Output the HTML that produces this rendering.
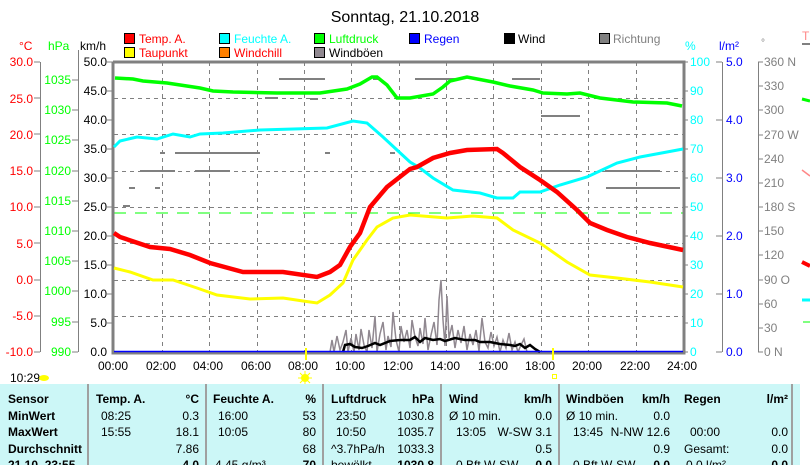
<!DOCTYPE html>
<html><head><meta charset="utf-8"><style>
body{margin:0;background:#fff;}
svg{display:block;font-family:"Liberation Sans",sans-serif;}
</style></head><body>
<svg width="810" height="465" viewBox="0 0 810 465" xmlns="http://www.w3.org/2000/svg">
<rect width="810" height="465" fill="#fff"/>
<text x="405" y="22" font-size="16" text-anchor="middle" fill="#000">Sonntag, 21.10.2018</text>
<g font-size="12">
<rect x="124.5" y="33.5" width="10" height="10" fill="#f00" stroke="#000"/><text x="139" y="43" fill="#f00">Temp. A.</text>
<rect x="124.5" y="47.5" width="10" height="10" fill="#ff0" stroke="#000"/><text x="139" y="57" fill="#f00">Taupunkt</text>
<rect x="219.5" y="33.5" width="10" height="10" fill="#0ff" stroke="#000"/><text x="234" y="43" fill="#0ff">Feuchte A.</text>
<rect x="219.5" y="47.5" width="10" height="10" fill="#ff8000" stroke="#000"/><text x="234" y="57" fill="#f00">Windchill</text>
<rect x="314.5" y="33.5" width="10" height="10" fill="#0f0" stroke="#000"/><text x="329" y="43" fill="#0f0">Luftdruck</text>
<rect x="314.5" y="47.5" width="10" height="10" fill="#908890" stroke="#000"/><text x="329" y="57" fill="#000">Windböen</text>
<rect x="409.5" y="33.5" width="10" height="10" fill="#00f" stroke="#000"/><text x="424" y="43" fill="#00f">Regen</text>
<rect x="504.5" y="33.5" width="10" height="10" fill="#000" stroke="#000"/><text x="518" y="43" fill="#000">Wind</text>
<rect x="599.5" y="33.5" width="10" height="10" fill="#808080" stroke="#000"/><text x="613" y="43" fill="#808080">Richtung</text>
</g>
<g font-size="12">
<text x="19" y="50" fill="#f00">°C</text>
<text x="48" y="50" fill="#0f0">hPa</text>
<text x="80" y="50" fill="#000">km/h</text>
<text x="685" y="50" fill="#0ff">%</text>
<text x="719" y="50" fill="#00f">l/m²</text>
<text x="761" y="46" fill="#808080" font-size="10">°</text>
</g>
<g stroke="#808080" stroke-dasharray="4,4" stroke-width="1">
<path d="M114 98.5H683M114 134.5H683M114 171.5H683M114 207.5H683M114 243.5H683M114 280.5H683M114 316.5H683"/>
<path d="M162.5 62V352M209.5 62V352M257.5 62V352M304.5 62V352M351.5 62V352M399.5 62V352M446.5 62V352M493.5 62V352M541.5 62V352M588.5 62V352M636.5 62V352"/>
</g>
<path d="M114 213H683" stroke="#0f0" stroke-dasharray="12,9" stroke-width="1"/>
<g stroke="#808080" stroke-width="2">
<path d="M279 79H325M373 79H378M415 79H455M512 79H540M541 116H580M540 171H580M605 171H660M606 188H680M175 153H260M140 171H175M195 171H230M129 188H135M155 188H160M123 206H130M160 153H165M325 153H330M390 153H395M265 98H278M310 99H318"/>
</g>
<g stroke="#808080" stroke-width="2" fill="none">
<path d="M113 62V353H684V62H113" stroke-width="3"/>
</g>
<g stroke="#808080" stroke-width="1">
<path d="M40.5 62V352M78.5 50V352M722.5 62V352M758.5 62V352"/>
</g>
<g font-size="12" fill="#f00" text-anchor="end">
<text x="33" y="66">30.0</text><text x="33" y="103">25.0</text><text x="33" y="139">20.0</text><text x="33" y="175">15.0</text><text x="33" y="211">10.0</text><text x="33" y="248">5.0</text><text x="33" y="284">0.0</text><text x="33" y="320">-5.0</text><text x="33" y="356">-10.0</text>
</g>
<g stroke="#808080"><path d="M34 62H40M34 98H40M34 134H40M34 171H40M34 207H40M34 243H40M34 280H40M34 316H40M34 352H40"/>
<path d="M72 80H78M72 110H78M72 140H78M72 171H78M72 201H78M72 231H78M72 261H78M72 291H78M72 322H78M72 352H78"/>
<path d="M107 62H113M107 91H113M107 120H113M107 149H113M107 178H113M107 207H113M107 236H113M107 265H113M107 294H113M107 323H113"/>
<path d="M683 62H688M683 91H688M683 120H688M683 149H688M683 178H688M683 207H688M683 236H688M683 265H688M683 294H688M683 323H688M683 352H688"/>
<path d="M716 62H722M716 120H722M716 178H722M716 236H722M716 294H722M716 352H722"/>
<path d="M758 62H763M758 86H763M758 110H763M758 135H763M758 159H763M758 183H763M758 207H763M758 231H763M758 255H763M758 280H763M758 304H763M758 328H763M758 352H763"/></g>
<g font-size="12" fill="#0f0" text-anchor="end">
<text x="71" y="84">1035</text><text x="71" y="114">1030</text><text x="71" y="144">1025</text><text x="71" y="175">1020</text><text x="71" y="205">1015</text><text x="71" y="235">1010</text><text x="71" y="265">1005</text><text x="71" y="295">1000</text><text x="71" y="326">995</text><text x="71" y="356">990</text>
</g>
<g font-size="12" fill="#000" text-anchor="end">
<text x="107" y="66">50.0</text><text x="107" y="95">45.0</text><text x="107" y="124">40.0</text><text x="107" y="153">35.0</text><text x="107" y="182">30.0</text><text x="107" y="211">25.0</text><text x="107" y="240">20.0</text><text x="107" y="269">15.0</text><text x="107" y="298">10.0</text><text x="107" y="327">5.0</text><text x="107" y="356">0.0</text>
</g>
<g font-size="12" fill="#0ff">
<text x="690" y="66">100</text><text x="690" y="95">90</text><text x="690" y="124">80</text><text x="690" y="153">70</text><text x="690" y="182">60</text><text x="690" y="211">50</text><text x="690" y="240">40</text><text x="690" y="269">30</text><text x="690" y="298">20</text><text x="690" y="327">10</text><text x="690" y="356">0</text>
</g>
<g font-size="12" fill="#00f">
<text x="726" y="66">5.0</text><text x="726" y="124">4.0</text><text x="726" y="182">3.0</text><text x="726" y="240">2.0</text><text x="726" y="298">1.0</text><text x="726" y="356">0.0</text>
</g>
<g font-size="12" fill="#808080">
<text x="764" y="66">360 N</text><text x="764" y="90">330</text><text x="764" y="114">300</text><text x="764" y="139">270 W</text><text x="764" y="163">240</text><text x="764" y="187">210</text><text x="764" y="211">180 S</text><text x="764" y="235">150</text><text x="764" y="259">120</text><text x="764" y="284">90  O</text><text x="764" y="308">60</text><text x="764" y="332">30</text><text x="764" y="356">0   N</text>
</g>
<g stroke-width="3" fill="none">
<path d="M802 44H810" stroke="#808080" stroke-width="2"/>
<path d="M802 99L810 101" stroke="#0f0"/>
<path d="M802 170L810 176" stroke="#f88" stroke-width="1.5"/>
<path d="M802 262L810 266" stroke="#f00" stroke-width="4"/>
<path d="M802 300H810" stroke="#0ff"/>
<path d="M803 322H810" stroke="#0f0" stroke-width="1"/>
<text x="802" y="40" font-size="12" fill="#f88" stroke="none">T</text>
</g>
<polyline fill="none" stroke="#908890" stroke-width="1.5" points="330,352 332,340 334,352 337,336 340,350 343,342 346,330 348,352 351,338 354,352 356,334 359,350 361,329 364,345 367,352 369,330 372,348 375,316 377,352 380,334 383,322 386,350 388,336 391,347 393,312 396,340 399,352 401,326 404,342 407,330 410,348 412,320 415,337 418,346 420,328 423,344 425,318 428,350 431,335 434,322 437,345 439,300 441,280 443,320 445,346 447,296 449,338 452,325 455,348 458,330 461,343 464,326 467,350 470,334 473,345 476,330 479,351 482,318 485,342 488,348 491,332 494,346 497,337 500,352 503,340 506,348 509,333 512,350 515,342 518,352 521,345 524,339 527,352"/>
<polyline fill="none" stroke="#000" stroke-width="2.5" points="343,352 345,345 350,344 355,347 362,348 368,346 375,343 380,345 390,341 400,340 410,340 415,337 420,342 425,338 433,340 440,339 445,341 455,338 465,340 475,340 480,342 490,342 500,344 510,345 515,346 520,344 525,348 530,345 535,349 540,352"/>
<path d="M114 351.5H683" stroke="#00f" stroke-width="1.5"/>
<polyline fill="none" stroke="#0f0" stroke-width="3.5" points="115,78 133,79 143,81 167,83 200,88 213,91 233,92 277,93 320,93 347,89 360,84 372,77 377,77 387,85 397,98 410,98 433,94 443,87 450,81 467,77 493,82 510,86 533,90 543,93 567,94 580,93 600,98 633,102 667,103 682,106"/>
<polyline fill="none" stroke="#0ff" stroke-width="3" points="114,147 120,141 137,137 157,139 173,134 190,137 200,134 223,133 260,130 327,128 353,121 367,123 383,137 397,150 410,162 420,168 433,178 453,190 480,193 497,198 513,198 520,192 540,192 560,185 587,177 617,163 640,157 667,152 683,149"/>
<polyline fill="none" stroke="#ff0" stroke-width="3" points="114,268 130,272 153,280 173,280 197,288 217,295 250,299 283,298 303,301 317,303 330,295 343,283 353,260 367,240 377,227 393,218 410,215 447,218 473,216 497,218 513,230 540,243 567,262 590,275 617,278 650,282 683,287"/>
<polyline fill="none" stroke="#f00" stroke-width="4.5" points="114,233 120,237 150,247 170,249 190,255 210,263 243,272 283,272 317,277 330,272 340,265 350,247 360,233 370,207 387,187 410,169 417,167 433,158 450,153 467,150 497,149 503,153 520,167 540,180 557,192 577,210 590,223 607,230 627,237 650,243 683,250"/>
<path d="M306 348V360M553 348V360" stroke="#ff0" stroke-width="2"/>
<g font-size="12" fill="#000" text-anchor="middle">
<text x="113" y="370">00:00</text><text x="161" y="370">02:00</text><text x="208" y="370">04:00</text><text x="256" y="370">06:00</text><text x="303" y="370">08:00</text><text x="350" y="370">10:00</text><text x="398" y="370">12:00</text><text x="445" y="370">14:00</text><text x="493" y="370">16:00</text><text x="540" y="370">18:00</text><text x="587" y="370">20:00</text><text x="635" y="370">22:00</text><text x="682" y="370">24:00</text>
</g>
<text x="10" y="382" font-size="12">10:29</text>
<ellipse cx="44" cy="378" rx="5" ry="3" fill="#ff0"/>
<circle cx="305" cy="378" r="4" fill="#ff0"/>
<g stroke="#ff0" stroke-width="1"><path d="M305 371V385M298 378H312M300 373L310 383M310 373L300 383"/></g>
<rect x="552.5" y="374.5" width="4" height="4" fill="none" stroke="#ff0"/>
<rect x="0" y="384" width="800" height="81" fill="#ccf7f7"/>
<g stroke="#a0a0a0" stroke-width="2"><path d="M88 384V465M206 384V465M323 384V465M441 384V465M559 384V465M792 384V465"/></g>
<g font-size="12" fill="#000">
<g font-weight="bold">
<text x="8" y="403">Sensor</text><text x="8" y="420">MinWert</text><text x="8" y="436">MaxWert</text><text x="8" y="453">Durchschnitt</text><text x="8" y="469">21.10. 23:55</text>
<text x="96" y="403">Temp. A.</text><text x="213" y="403">Feuchte A.</text><text x="331" y="403">Luftdruck</text><text x="449" y="403">Wind</text><text x="566" y="403">Windböen</text><text x="684" y="403">Regen</text>
</g>
<g font-weight="bold" text-anchor="end">
<text x="199" y="403">°C</text><text x="316" y="403">%</text><text x="434" y="403">hPa</text><text x="552" y="403">km/h</text><text x="670" y="403">km/h</text><text x="788" y="403">l/m²</text>
<text x="199" y="469">4.0</text><text x="316" y="469">70</text><text x="434" y="469">1030.8</text><text x="552" y="469">0.0</text><text x="670" y="469">0.0</text><text x="788" y="469">0.0</text>
</g>
<text x="101" y="420">08:25</text><text x="101" y="436">15:55</text>
<text x="218" y="420">16:00</text><text x="218" y="436">10:05</text><text x="215" y="469">4.45 g/m³</text>
<text x="336" y="420">23:50</text><text x="336" y="436">10:50</text><text x="331" y="453">^3.7hPa/h</text><text x="331" y="469">bewölkt</text>
<text x="449" y="420">Ø 10 min.</text><text x="456" y="436">13:05</text><text x="456" y="469">0 Bft W-SW</text>
<text x="566" y="420">Ø 10 min.</text><text x="573" y="436">13:45</text><text x="573" y="469">0 Bft W-SW</text>
<text x="690" y="436">00:00</text><text x="684" y="453">Gesamt:</text><text x="686" y="469">0.0 l/m²</text>
<g text-anchor="end">
<text x="199" y="420">0.3</text><text x="199" y="436">18.1</text><text x="199" y="453">7.86</text>
<text x="316" y="420">53</text><text x="316" y="436">80</text><text x="316" y="453">68</text>
<text x="434" y="420">1030.8</text><text x="434" y="436">1035.7</text><text x="434" y="453">1033.3</text>
<text x="552" y="420">0.0</text><text x="552" y="436">W-SW 3.1</text><text x="552" y="453">0.5</text>
<text x="670" y="420">0.0</text><text x="670" y="436">N-NW 12.6</text><text x="670" y="453">0.9</text>
<text x="788" y="436">0.0</text><text x="788" y="453">0.0</text>
</g>
</g>
</svg>
</body></html>
